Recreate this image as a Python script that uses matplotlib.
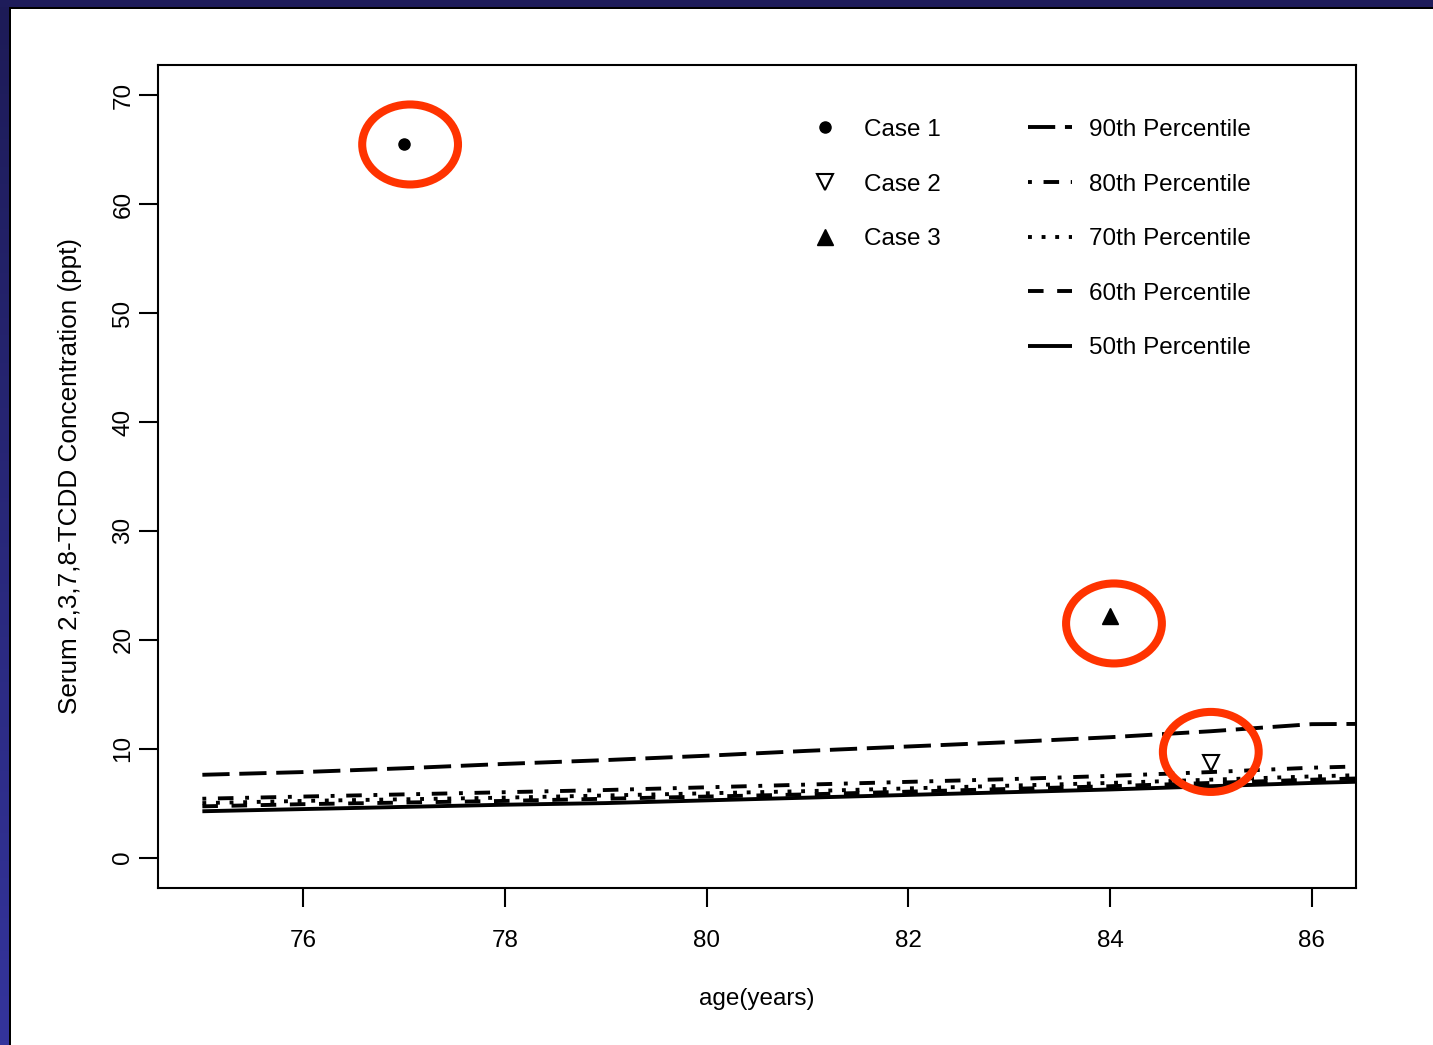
import numpy as np
import matplotlib
matplotlib.use("Agg")
import matplotlib.pyplot as plt
from matplotlib.lines import Line2D
from matplotlib.patches import Ellipse, Rectangle
from matplotlib.colors import LinearSegmentedColormap

plt.rcParams['font.family'] = ['Liberation Sans', 'DejaVu Sans']

W, H = 1433, 1045

# percentile curves (serum TCDD, ppt) by age
ages = [75, 76, 77, 78, 79, 80, 81, 82, 83, 84, 85, 86, 87]
p90 = [7.6, 7.85, 8.2, 8.6, 8.95, 9.35, 9.8, 10.2, 10.6, 11.05, 11.6, 12.25, 12.3]
p80 = [5.4, 5.6, 5.8, 6.0, 6.2, 6.45, 6.7, 6.95, 7.2, 7.5, 7.85, 8.25, 8.5]
p70 = [5.0, 5.2, 5.35, 5.5, 5.7, 5.9, 6.1, 6.35, 6.6, 6.85, 7.15, 7.45, 7.7]
p60 = [4.7, 4.9, 5.05, 5.2, 5.4, 5.6, 5.8, 6.05, 6.3, 6.55, 6.85, 7.15, 7.4]
p50 = [4.25, 4.45, 4.65, 4.85, 5.0, 5.25, 5.5, 5.75, 6.0, 6.25, 6.55, 6.85, 7.1]

# the three cases
case_names = ["Case 1", "Case 2", "Case 3"]
case_age = [77, 85, 84]
case_conc = [65.5, 8.7, 22.2]

# red rings drawn round the cases (centre age, centre conc)
ring_age = [77.06, 85.0, 84.04]
ring_conc = [65.5, 9.7, 21.5]

fig = plt.figure(figsize=(W / 100, H / 100), dpi=100)
fig.patch.set_facecolor('white')

# slide frame: navy bands on top and left edge
bg = fig.add_axes([0, 0, 9 / W, 1])
grad = np.linspace(0, 1, 256).reshape(-1, 1)
cm = LinearSegmentedColormap.from_list('navy', ['#1d1b57', '#34349c'])
bg.imshow(grad, aspect='auto', cmap=cm, extent=[0, 1, 0, 1], origin='upper')
bg.set_axis_off()
fig.patches.append(Rectangle((0, 1 - 7 / H), 1, 7 / H, transform=fig.transFigure,
                             facecolor='#1e1c5a', edgecolor='none', zorder=5))
fig.patches.append(Rectangle((9 / W, 1 - 9 / H), 1, 2 / H, transform=fig.transFigure,
                             facecolor='black', edgecolor='none', zorder=5))
fig.patches.append(Rectangle((9 / W, 0), 2 / W, 1 - 7 / H, transform=fig.transFigure,
                             facecolor='black', edgecolor='none', zorder=5))

ax = fig.add_axes([158 / W, 157 / H, 1198 / W, 823 / H])

lw = 2.8
styles = [
    (p90, (0, (7, 2.5)), "90th Percentile"),
    (p80, (0, (1, 3, 4, 3)), "80th Percentile"),
    (p70, (0, (1, 2.5)), "70th Percentile"),
    (p60, (0, (4, 3.5)), "60th Percentile"),
    (p50, '-', "50th Percentile"),
]
line_handles = []
for vals, ls, lab in styles:
    h, = ax.plot(ages, vals, color='black', lw=lw, linestyle=ls, label=lab,
                 solid_capstyle='butt', dash_capstyle='butt')
    line_handles.append(h)

mk = [dict(marker='o', ms=8, mfc='black', mec='black'),
      dict(marker='v', ms=11, mfc='white', mec='black', mew=1.5),
      dict(marker='^', ms=11, mfc='black', mec='black')]
case_handles = []
for i in range(3):
    h, = ax.plot([case_age[i]], [case_conc[i]], linestyle='none', label=case_names[i],
                 zorder=4, **mk[i])
    case_handles.append(h)

for a, c in zip(ring_age, ring_conc):
    ax.add_patch(Ellipse((a, c), 0.95, 7.35, fill=False, edgecolor='#ff3300',
                         lw=5.8, zorder=6))

ax.set_xlim(74.56, 86.44)
ax.set_ylim(-2.8, 72.8)
ax.set_xticks([76, 78, 80, 82, 84, 86])
ax.set_yticks([0, 10, 20, 30, 40, 50, 60, 70])
ax.tick_params(axis='both', direction='out', length=14, width=1.5, labelsize=17.5)
ax.tick_params(axis='x', pad=16)
ax.tick_params(axis='y', pad=3)
for t in ax.get_yticklabels():
    t.set_rotation(90)
    t.set_va('center')
for s in ax.spines.values():
    s.set_linewidth(1.5)

ax.set_xlabel("age(years)", fontsize=17.5, labelpad=26)
ax.set_ylabel("Serum 2,3,7,8-TCDD Concentration (ppt)", fontsize=18.8, labelpad=22)

blank = Line2D([], [], linestyle='none', marker=None)
handles = case_handles + [blank, blank] + line_handles
labels = case_names + ["", ""] + [s[2] for s in styles]
ax.legend(handles, labels, ncol=2, frameon=False, loc='upper left',
          bbox_to_anchor=(0.52, 0.961), fontsize=17.5, handlelength=1.8,
          handletextpad=0.7, columnspacing=3.6, labelspacing=1.34,
          numpoints=1)

fig.savefig("out.png", dpi=100)
